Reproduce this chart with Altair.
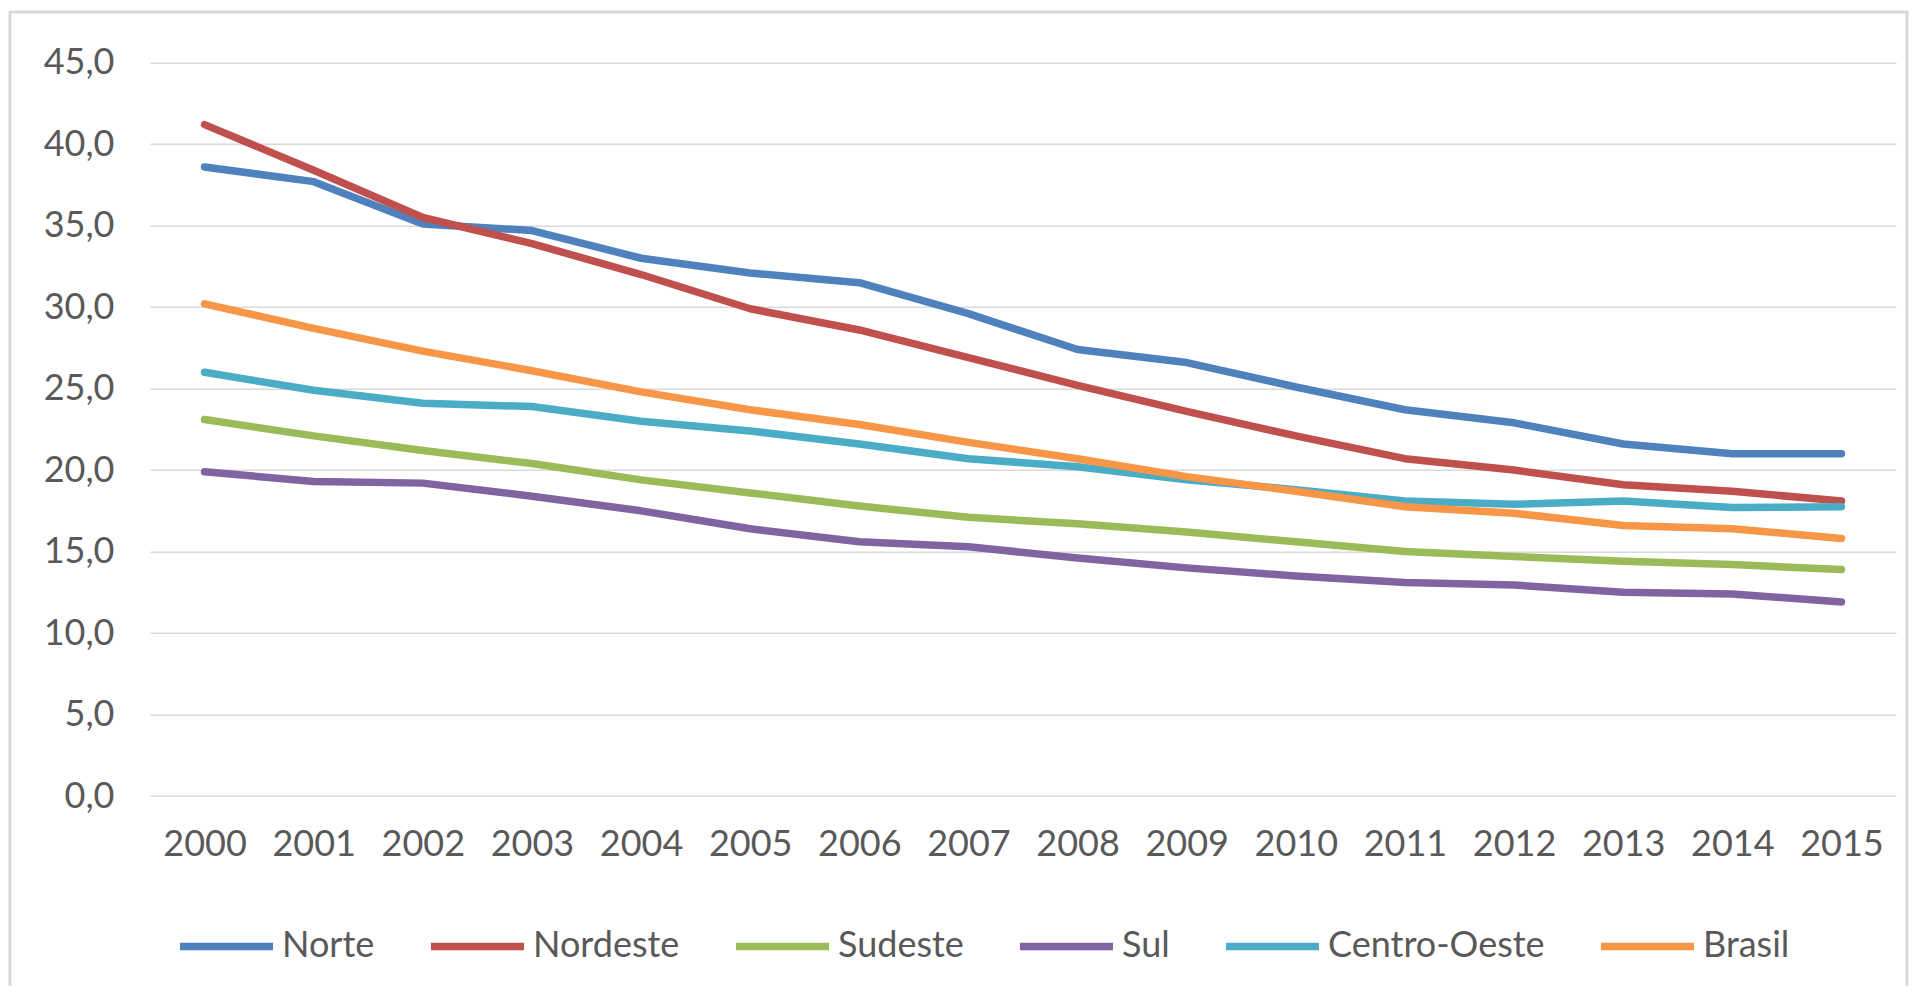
import altair as alt
import pandas as pd

years = [str(y) for y in range(2000, 2016)]
regions = ["Norte", "Nordeste", "Sudeste", "Sul", "Centro-Oeste", "Brasil"]
colors = ["#4F81BD", "#C0504D", "#9BBB59", "#8064A2", "#4BACC6", "#F79646"]

norte = [38.6, 37.7, 35.1, 34.7, 33.0, 32.1, 31.5, 29.6, 27.4, 26.6, 25.1, 23.7, 22.9, 21.6, 21.0, 21.0]
nordeste = [41.2, 38.4, 35.5, 33.9, 32.0, 29.9, 28.6, 26.9, 25.2, 23.6, 22.1, 20.7, 20.0, 19.1, 18.7, 18.1]
sudeste = [23.1, 22.1, 21.2, 20.4, 19.4, 18.6, 17.8, 17.1, 16.7, 16.2, 15.6, 15.0, 14.7, 14.4, 14.2, 13.9]
sul = [19.9, 19.3, 19.2, 18.4, 17.5, 16.4, 15.6, 15.3, 14.6, 14.0, 13.5, 13.1, 12.95, 12.5, 12.4, 11.9]
centro_oeste = [26.0, 24.9, 24.1, 23.9, 23.0, 22.4, 21.6, 20.7, 20.2, 19.4, 18.8, 18.1, 17.9, 18.1, 17.7, 17.75]
brasil = [30.2, 28.7, 27.3, 26.1, 24.8, 23.7, 22.8, 21.7, 20.7, 19.6, 18.7, 17.75, 17.35, 16.6, 16.4, 15.8]

series = [norte, nordeste, sudeste, sul, centro_oeste, brasil]
rows = []
for i, (name, vals) in enumerate(zip(regions, series)):
    for y, v in zip(years, vals):
        rows.append({"ano": y, "regiao": name, "valor": v, "ordem": i})
df = pd.DataFrame(rows)

FONT = "Lato"
TXT = "#595959"
FS = 36
W, H = 1746, 733.3

frame = alt.Chart(pd.DataFrame({"a": [0]})).mark_rect(
    fill="transparent", stroke="#D9D9D9", strokeWidth=3, clip=False
).encode(
    x=alt.value(-140), x2=alt.value(1757), y=alt.value(-50.7), y2=alt.value(1000)
)

lines = alt.Chart(df).mark_line(
    strokeWidth=7.5, strokeCap="round", strokeJoin="round"
).encode(
    x=alt.X("ano:O", sort=years,
            scale=alt.Scale(type="point", padding=0.5),
            axis=alt.Axis(title=None, labelAngle=0, ticks=False, domain=False,
                          grid=False, labelFont=FONT, labelFontSize=FS,
                          labelColor=TXT, labelPadding=31)),
    y=alt.Y("valor:Q",
            scale=alt.Scale(domain=[0, 45], nice=False, zero=True),
            axis=alt.Axis(title=None, values=[0, 5, 10, 15, 20, 25, 30, 35, 40, 45],
                          labelExpr="replace(format(datum.value, '.1f'), '.', ',')",
                          ticks=False, domain=False, grid=True,
                          gridColor="#D9D9D9", gridWidth=1.5,
                          labelFont=FONT, labelFontSize=FS, labelColor=TXT,
                          labelPadding=36)),
    color=alt.Color("regiao:N",
                    scale=alt.Scale(domain=regions, range=colors),
                    legend=alt.Legend(title=None, orient="none", direction="horizontal",
                                      legendX=26, legendY=833,
                                      symbolType="stroke", symbolSize=8649,
                                      symbolStrokeWidth=7.5,
                                      labelFont=FONT, labelFontSize=FS,
                                      labelColor=TXT, labelOffset=5, labelLimit=0,
                                      columnPadding=41, padding=0)),
    order=alt.Order("ordem:Q"),
)

chart = alt.layer(frame, lines).properties(
    width=W, height=H,
    padding={"left": 142, "top": 54.7, "right": 27, "bottom": 190},
    autosize=alt.AutoSizeParams(type="none"),
    background="white",
).configure_view(stroke=None)

chart.save("out.html", embed_options={"renderer": "svg", "actions": False})
